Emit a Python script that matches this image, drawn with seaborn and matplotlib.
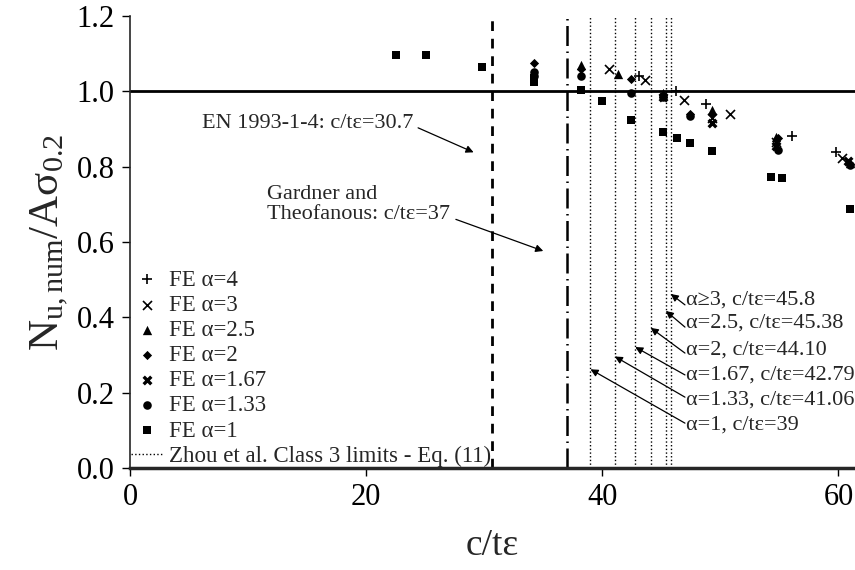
import matplotlib
matplotlib.use("Agg")
import matplotlib.pyplot as plt
import seaborn as sns
import pandas as pd

# FE results: c/tε and normalised ultimate load for each α
ct_a1 = [22.5, 25.1, 29.8, 34.2, 34.2, 38.2, 40.0, 42.4, 45.1, 46.3, 47.4, 49.3, 54.3, 55.2, 61.0]
nu_a1 = [1.096, 1.096, 1.064, 1.035, 1.025, 1.003, 0.975, 0.924, 0.892, 0.876, 0.863, 0.842, 0.772, 0.770, 0.688]
ct_a133 = [34.2, 34.2, 38.2, 42.4, 45.1, 47.4, 54.9, 61.0]
nu_a133 = [1.050, 1.040, 1.040, 0.995, 0.985, 0.935, 0.843, 0.805]
ct_a167 = [45.1, 49.3, 54.7, 60.8]
nu_a167 = [0.985, 0.916, 0.855, 0.815]
ct_a2 = [34.2, 38.2, 42.4, 45.1, 47.4, 49.3, 54.9, 61.0]
nu_a2 = [1.075, 1.060, 1.033, 0.990, 0.940, 0.940, 0.875, 0.808]
ct_a25 = [38.2, 41.3, 45.1, 49.3, 54.7, 61.0]
nu_a25 = [1.070, 1.045, 0.995, 0.950, 0.878, 0.810]
ct_a3 = [40.6, 43.6, 46.9, 49.3, 50.8, 54.7, 60.3]
nu_a3 = [1.060, 1.030, 0.977, 0.928, 0.940, 0.865, 0.823]
ct_a4 = [43.1, 46.2, 48.8, 56.1, 59.8]
nu_a4 = [1.040, 1.000, 0.966, 0.881, 0.839]

series_labels = ["FE α=4", "FE α=3", "FE α=2.5", "FE α=2", "FE α=1.67", "FE α=1.33", "FE α=1"]

# slenderness limits
en_limit = 30.7
gardner_limit = 37
zhou_limits = [39, 41.06, 42.79, 44.10, 45.38, 45.8]
zhou_labels = ["α=1, c/tε=39", "α=1.33, c/tε=41.06", "α=1.67, c/tε=42.79",
               "α=2, c/tε=44.10", "α=2.5, c/tε=45.38", "α≥3, c/tε=45.8"]

x_ticks = [0, 20, 40, 60]
y_ticks = [0.0, 0.2, 0.4, 0.6, 0.8, 1.0, 1.2]

sns.set_style("ticks")
plt.rcParams["font.family"] = ["Liberation Serif", "DejaVu Serif"]
plt.rcParams["mathtext.fontset"] = "custom"
plt.rcParams["mathtext.rm"] = "Liberation Serif"
plt.rcParams["mathtext.it"] = "Liberation Serif:italic"

fig = plt.figure(figsize=(8.55, 5.70), dpi=100)
ax = fig.add_axes([0.152, 0.179, 0.848, 0.793])

frames = []
for lab, xs, ys in zip(series_labels,
                       [ct_a4, ct_a3, ct_a25, ct_a2, ct_a167, ct_a133, ct_a1],
                       [nu_a4, nu_a3, nu_a25, nu_a2, nu_a167, nu_a133, nu_a1]):
    frames.append(pd.DataFrame({"ct": xs, "nu": ys, "series": lab}))
df = pd.concat(frames, ignore_index=True)

styles = {
    "FE α=4": dict(marker="+", s=60, linewidth=1.2),
    "FE α=3": dict(marker="x", s=42, linewidth=1.2),
    "FE α=2.5": dict(marker="^", s=45, linewidth=0),
    "FE α=2": dict(marker="D", s=22, linewidth=0),
    "FE α=1.67": dict(marker="x", s=30, linewidth=2.4),
    "FE α=1.33": dict(marker="o", s=38, linewidth=0),
    "FE α=1": dict(marker="s", s=36, linewidth=0),
}

for lab in series_labels:
    sub = df[df["series"] == lab]
    sns.scatterplot(data=sub, x="ct", y="nu", ax=ax, color="black",
                    label=lab, zorder=4, **styles[lab])

# reference lines
ax.axhline(1.0, color="black", lw=2.0, zorder=2)
ax.axvline(en_limit, color="black", lw=2.0, linestyle=(0, (3.5, 2.8)), zorder=2)
ax.axvline(gardner_limit, color="black", lw=1.8, linestyle=(0, (8, 2.2, 0.6, 2.2)), zorder=2)
for i, v in enumerate(zhou_limits):
    ax.axvline(v, color="black", lw=1.0, linestyle=":", zorder=2,
               label="Zhou et al. Class 3 limits - Eq. (11)" if i == 0 else None)

arrow = dict(arrowstyle="-|>", color="black", lw=0.9, mutation_scale=11,
             shrinkA=0, shrinkB=0)
fs_note = 16

ax.text(24.0, 0.915, "EN 1993-1-4: c/tε=30.7", ha="right", va="center", fontsize=fs_note)
ax.annotate("", xy=(29.1, 0.838), xytext=(24.4, 0.903), arrowprops=arrow)

ax.text(11.6, 0.70, "Gardner and\nTheofanous: c/tε=37", ha="left", va="center",
        fontsize=fs_note, linespacing=1.1)
ax.annotate("", xy=(35.0, 0.576), xytext=(27.6, 0.66), arrowprops=arrow)

text_y = [0.114, 0.180, 0.247, 0.313, 0.385, 0.446]
start_y = [0.119, 0.188, 0.247, 0.305, 0.374, 0.433]
end_y = [0.262, 0.296, 0.321, 0.372, 0.417, 0.462]
for v, lab, ty, sy, ey in zip(zhou_limits, zhou_labels, text_y, start_y, end_y):
    ax.text(47.1, ty, lab, ha="left", va="center", fontsize=fs_note)
    ax.annotate("", xy=(v, ey), xytext=(47.0, sy), arrowprops=arrow)

ax.set_xlim(0, 61.4)
ax.set_ylim(0, 1.2)
ax.set_xticks(x_ticks)
ax.set_yticks(y_ticks)
ax.set_yticklabels([f"{t:.1f}" for t in y_ticks])
ax.tick_params(axis="both", labelsize=22, direction="out", length=6, width=1.0,
               colors="black", pad=5)
ax.set_xlabel("c/tε", fontsize=27, labelpad=12)
ax.set_ylabel(r"$\mathrm{N_{u,num}/Aσ_{0.2}}$", fontsize=31, labelpad=4)

sns.despine(ax=ax, top=True, right=True)
ax.spines["bottom"].set_linewidth(2.5)
ax.spines["left"].set_linewidth(1.2)

handles, labels = ax.get_legend_handles_labels()
leg = ax.legend(handles, labels, loc="lower left", bbox_to_anchor=(0.0, 0.0),
                frameon=False, fontsize=16.5, handlelength=1.4, handletextpad=0.25,
                labelspacing=0.18, borderpad=0.05, borderaxespad=0.0)

fig.savefig("out.png", dpi=100)
